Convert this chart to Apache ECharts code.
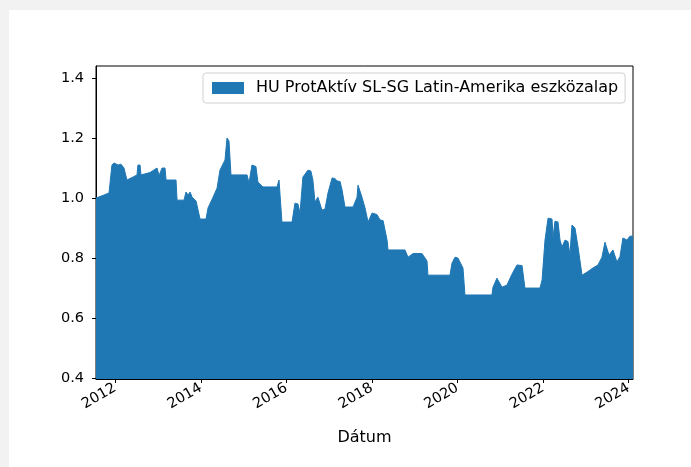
<!DOCTYPE html>
<html>
<head>
<meta charset="utf-8">
<script src="https://cdn.jsdelivr.net/npm/echarts@6/dist/echarts.min.js"></script>
<style>
  html, body { margin: 0; padding: 0; background: #f2f2f2; }
  #chart { position: absolute; left: 9px; top: 10px; width: 682px; height: 457px; background: #fff; }
</style>
</head>
<body>
<div id="chart"></div>
<script>
// árfolyam (napi, kiolvasva a képről)
var dates = [
  '2011-07-22','2011-09-28','2011-11-10','2011-11-27','2011-12-05','2011-12-23',
  '2012-01-26','2012-02-20','2012-03-17','2012-04-11','2012-06-02','2012-07-06','2012-07-14','2012-08-01','2012-08-09','2012-10-25','2012-12-24',
  '2013-01-10','2013-01-27','2013-02-05','2013-03-02','2013-03-11','2013-06-04','2013-06-13','2013-08-11','2013-08-28','2013-09-15','2013-10-02','2013-10-19','2013-11-22','2013-12-26',
  '2014-02-15','2014-03-04','2014-04-16','2014-05-20','2014-06-14','2014-07-27','2014-08-13','2014-08-30','2014-09-16',
  '2015-01-31','2015-02-17','2015-03-14','2015-04-17','2015-05-04','2015-06-16','2015-10-14','2015-10-31','2015-11-17','2015-11-25',
  '2016-02-19','2016-03-15','2016-04-10','2016-04-27','2016-05-22','2016-07-04','2016-07-29','2016-08-15','2016-09-02','2016-09-27','2016-10-31','2016-11-26','2016-12-22',
  '2017-01-26','2017-02-20','2017-03-09','2017-04-04','2017-04-21','2017-05-16','2017-07-24','2017-08-27','2017-09-04','2017-09-21','2017-10-08','2017-11-03','2017-11-29',
  '2018-01-02','2018-02-13','2018-03-11','2018-04-06','2018-05-10','2018-05-18','2018-10-10','2018-11-05','2018-11-22','2018-12-18',
  '2019-01-03','2019-01-29','2019-03-04','2019-03-30','2019-04-16','2019-04-24','2019-10-29','2019-11-15','2019-12-11',
  '2020-01-05','2020-01-22','2020-02-17','2020-03-05','2020-10-21','2020-10-30','2020-12-03','2020-12-11',
  '2021-01-15','2021-02-01','2021-02-27','2021-03-25','2021-04-19','2021-05-23','2021-07-05','2021-07-30','2021-12-05','2021-12-23',
  '2022-01-17','2022-02-12','2022-03-18','2022-03-26','2022-04-12','2022-05-08','2022-05-25','2022-06-11','2022-07-07','2022-08-01','2022-08-18','2022-09-04','2022-09-30','2022-10-26','2022-11-29',
  '2023-01-10','2023-03-02','2023-04-14','2023-05-18','2023-06-13','2023-06-30','2023-07-17','2023-08-20','2023-09-23','2023-10-19','2023-11-13','2023-12-17',
  '2024-01-12','2024-02-07'
];
var values = [
  1.000,1.010,1.017,1.020,1.110,1.117,
  1.110,1.113,1.100,1.060,1.070,1.077,1.110,1.110,1.077,1.085,1.100,
  1.075,1.070,1.100,1.100,1.060,1.060,0.993,0.993,1.020,1.010,1.020,1.003,0.990,0.930,
  0.930,0.967,1.003,1.033,1.093,1.127,1.200,1.190,1.077,
  1.077,1.050,1.110,1.105,1.053,1.037,1.037,1.060,1.060,0.920,
  0.920,0.983,0.980,0.950,1.070,1.093,1.090,1.060,0.987,1.003,0.960,0.963,1.017,
  1.067,1.065,1.057,1.055,1.027,0.970,0.970,1.003,1.043,1.043,1.003,0.967,0.920,
  0.950,0.945,0.927,0.925,0.860,0.827,0.827,0.803,0.803,0.815,
  0.820,0.815,0.815,0.800,0.790,0.743,0.743,0.783,0.803,
  0.800,0.797,0.767,0.677,0.677,0.703,0.733,0.730,
  0.703,0.703,0.710,0.733,0.753,0.777,0.775,0.700,0.700,0.727,
  0.860,0.933,0.930,0.867,0.923,0.920,0.860,0.837,0.860,0.855,0.810,0.910,0.900,0.837,0.743,
  0.753,0.767,0.777,0.803,0.853,0.850,0.810,0.827,0.787,0.805,0.867,0.860,
  0.873,0.873
];
var xTicks = ['2012-01-01','2014-01-01','2016-01-01','2018-01-01','2020-01-01','2022-01-01','2024-01-01'];
var yTicks = [0.4, 0.6, 0.8, 1.0, 1.2, 1.4];
var seriesName = 'HU ProtAktív SL-SG Latin-Amerika eszközalap';

function toTime(d) { return Date.parse(d + 'T00:00:00Z'); }

var myChart = echarts.init(document.getElementById('chart'));
var font = 'DejaVu Sans';
var data = [];
for (var i = 0; i < dates.length; i++) {
  data.push([toTime(dates[i]), values[i]]);
}
var xTickTimes = xTicks.map(toTime);

var option = {
  animation: false,
  textStyle: { fontFamily: font },
  grid: {
    left: 87, top: 56, right: 58, bottom: 88,
    show: true, borderColor: '#000', borderWidth: 1, backgroundColor: 'transparent'
  },
  legend: {
    left: 194, top: 63,
    data: [seriesName],
    icon: 'rect',
    itemWidth: 32, itemHeight: 12,
    padding: [7, 7, 7, 9],
    borderColor: '#d0d0d0', borderWidth: 1, borderRadius: 3,
    backgroundColor: '#fff',
    textStyle: { fontFamily: font, fontSize: 16, color: '#000', padding: [0, 0, 0, 7] }
  },
  xAxis: {
    type: 'value',
    min: toTime(dates[0]),
    max: toTime(dates[dates.length - 1]),
    name: 'Dátum',
    nameLocation: 'middle',
    nameGap: 51,
    nameTextStyle: { fontFamily: font, fontSize: 16, color: '#000' },
    axisLine: { lineStyle: { color: '#000', width: 1 } },
    axisTick: { customValues: xTickTimes, length: 4, lineStyle: { color: '#000' } },
    axisLabel: {
      customValues: xTickTimes,
      rotate: 30,
      margin: 8,
      fontFamily: font, fontSize: 14.5, color: '#000',
      formatter: function (v) { return String(new Date(v).getUTCFullYear()); }
    },
    splitLine: { show: false }
  },
  yAxis: {
    type: 'value',
    min: 0.397,
    max: 1.44,
    axisLine: { show: true, lineStyle: { color: '#000', width: 1 } },
    axisTick: { show: true, customValues: yTicks, length: 4, lineStyle: { color: '#000' } },
    axisLabel: {
      customValues: yTicks,
      margin: 12,
      fontFamily: font, fontSize: 14.5, color: '#000',
      formatter: function (v) { return v.toFixed(1); }
    },
    splitLine: { show: false }
  },
  series: [{
    name: seriesName,
    type: 'line',
    data: data,
    showSymbol: false,
    color: '#1f77b4',
    lineStyle: { width: 1, color: '#1f77b4' },
    areaStyle: { color: '#1f77b4', opacity: 1, origin: 'start' }
  }]
};
myChart.setOption(option);
</script>
</body>
</html>
